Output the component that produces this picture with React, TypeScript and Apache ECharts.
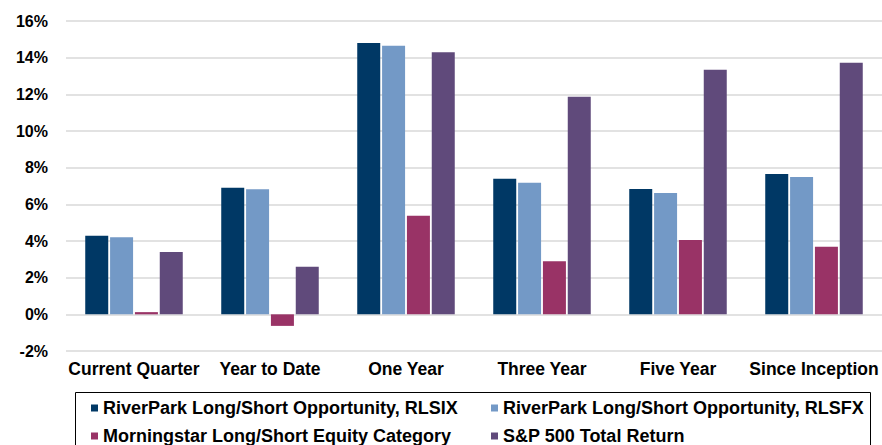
import React, { useEffect, useRef } from "react";
import * as echarts from "echarts";

const categories = ["Current Quarter", "Year to Date", "One Year", "Three Year", "Five Year", "Since Inception"];
const rlsix = [4.28, 6.91, 14.8, 7.4, 6.84, 7.66];
const rlsfx = [4.2, 6.82, 14.65, 7.18, 6.62, 7.49];
const morningstar = [0.12, -0.63, 5.38, 2.9, 4.06, 3.69];
const sp500 = [3.4, 2.59, 14.29, 11.87, 13.34, 13.72];
const seriesNames = [
  "RiverPark Long/Short Opportunity, RLSIX",
  "RiverPark Long/Short Opportunity, RLSFX",
  "Morningstar Long/Short Equity Category",
  "S&P 500 Total Return",
];
const colors = ["#003865", "#7399C6", "#993366", "#604A7B"];
const legendPos = [
  [91, 399],
  [491, 399],
  [91, 427],
  [491, 427],
];

const FONT = "'Liberation Sans', Arial, sans-serif";

export default function App() {
  const ref = useRef<HTMLDivElement>(null);
  useEffect(() => {
    if (!ref.current) return;
    const chart = echarts.init(ref.current, null, { renderer: "svg" });
    const data = [rlsix, rlsfx, morningstar, sp500];
    const legendText = { fontFamily: FONT, fontWeight: "bold", fontSize: 18, color: "#000" };
    chart.setOption({
      animation: false,
      grid: { left: 66, right: 0, top: 21, bottom: 94 },
      legend: seriesNames.map((n, i) => ({
        data: [n],
        left: legendPos[i][0],
        top: legendPos[i][1],
        padding: 0,
        itemWidth: 7,
        itemHeight: 7,
        icon: "rect",
        itemGap: 6,
        textStyle: legendText,
        selectedMode: false,
      })),
      graphic: [
        {
          type: "rect",
          shape: { x: 75.5, y: 392.5, width: 795, height: 70 },
          style: { fill: "none", stroke: "#000", lineWidth: 1 },
        },
      ],
      xAxis: {
        type: "category",
        data: categories,
        axisLine: { show: false },
        axisTick: { show: false },
        axisLabel: { interval: 0, margin: 9, fontFamily: FONT, fontWeight: "bold", fontSize: 17.5, color: "#000" },
      },
      yAxis: {
        type: "value",
        min: -2,
        max: 16,
        interval: 2,
        axisLabel: {
          formatter: "{value}%",
          margin: 18,
          fontFamily: FONT,
          fontWeight: "bold",
          fontSize: 16,
          color: "#000",
        },
        splitLine: { lineStyle: { color: "#d9d9d9", width: 1.5 } },
        axisLine: { show: false },
        axisTick: { show: false },
      },
      series: data.map((d, i) => ({
        name: seriesNames[i],
        type: "bar",
        data: d,
        barWidth: 23,
        barGap: "8%",
        itemStyle: { color: colors[i] },
      })),
    });
    return () => chart.dispose();
  }, []);
  return (
    <div
      ref={ref}
      style={{ position: "absolute", left: 0, top: 0, width: 882, height: 445, overflow: "hidden" }}
    />
  );
}
